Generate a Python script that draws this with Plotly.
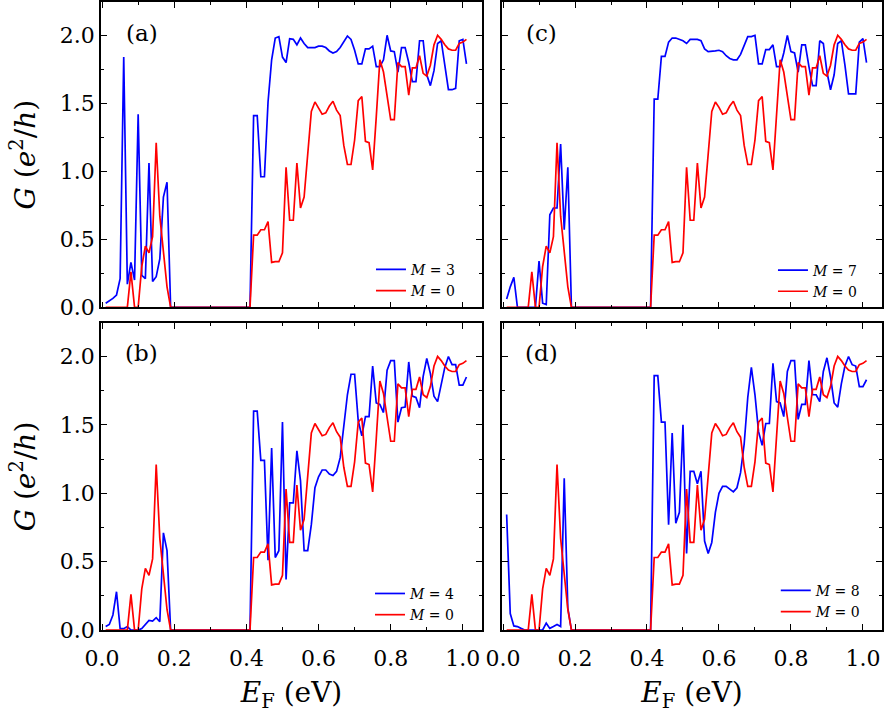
import plotly.graph_objects as go

# Fermi energy grid (eV)
E_F = [round(0.01 * k, 2) for k in range(1, 102)]

# Conductance G (e^2/h), M = 0 reference curve (shown in every panel)
G_M0 = [
    0, 0, 0, 0, 0, 0, 0, 0.26, 0, 0,
    0.30, 0.45, 0.40, 0.52, 1.21, 0.67, 0.40, 0.15, 0, 0,
    0, 0, 0, 0, 0, 0, 0, 0, 0, 0,
    0, 0, 0, 0, 0, 0, 0, 0, 0, 0,
    0, 0.53, 0.53, 0.57, 0.57, 0.63, 0.33, 0.335, 0.335, 0.40,
    1.03, 0.64, 0.64, 1.06, 0.73, 0.81, 1.13, 1.44, 1.51, 1.47,
    1.42, 1.43, 1.48, 1.515, 1.45, 1.41, 1.19, 1.05, 1.05, 1.23,
    1.52, 1.55, 1.22, 1.21, 1.01, 1.40, 1.82, 1.73, 1.55, 1.38,
    1.38, 1.80, 1.77, 1.77, 1.56, 1.76, 1.76, 1.85, 1.72, 1.70,
    1.78, 1.93, 2.00, 1.97, 1.93, 1.90, 1.89, 1.89, 1.94, 1.95,
    1.97,
]

G_M3 = [
    0.03, 0.045, 0.065, 0.09, 0.21, 1.84, 0.17, 0.33, 0.20, 1.42,
    0.235, 0.21, 1.06, 0.19, 0.225, 0.355, 0.81, 0.92, 0, 0,
    0, 0, 0, 0, 0, 0, 0, 0, 0, 0,
    0, 0, 0, 0, 0, 0, 0, 0, 0, 0,
    0, 1.41, 1.41, 0.96, 0.96, 1.51, 1.82, 1.98, 1.99, 1.84,
    1.80, 1.975, 1.97, 1.93, 1.98, 1.94, 1.91, 1.91, 1.91, 1.92,
    1.92, 1.91, 1.885, 1.87, 1.88, 1.91, 1.95, 1.995, 1.97, 1.89,
    1.79, 1.79, 1.90, 1.90, 1.92, 1.77, 1.77, 1.82, 2.00, 1.885,
    1.88, 1.73, 1.91, 1.91, 1.80, 1.66, 1.66, 1.96, 1.96, 1.71,
    1.63, 1.74, 1.94, 1.96, 1.78, 1.60, 1.60, 1.61, 1.96, 1.97,
    1.79,
]

G_M4 = [
    0.025, 0.04, 0.11, 0.28, 0.01, 0.01, 0.025, 0, 0, 0,
    0.01, 0.04, 0.07, 0.065, 0.09, 0.06, 0.71, 0.58, 0, 0,
    0, 0, 0, 0, 0, 0, 0, 0, 0, 0,
    0, 0, 0, 0, 0, 0, 0, 0, 0, 0,
    0, 1.60, 1.60, 1.24, 1.24, 0.51, 1.33, 0.53, 0.58, 1.52,
    0.37, 0.93, 0.93, 1.31, 1.09, 0.58, 0.58, 0.77, 1.04, 1.12,
    1.17, 1.17, 1.14, 1.13, 1.16, 1.26, 1.48, 1.72, 1.87, 1.87,
    1.53, 1.42, 1.56, 1.56, 1.93, 1.66, 1.65, 1.59, 1.90, 1.97,
    1.97, 1.52, 1.625, 1.63, 1.96, 1.71, 1.70, 1.625, 1.855, 1.985,
    1.875, 1.71, 1.67, 1.80, 1.92, 2.00, 1.94, 1.94, 1.79, 1.79,
    1.85,
]

G_M7 = [
    0.06, 0.15, 0.22, 0, 0, 0, 0, 0, 0, 0.34,
    0.03, 0.02, 0.68, 0.73, 0.73, 1.20, 0.57, 1.03, 0, 0,
    0, 0, 0, 0, 0, 0, 0, 0, 0, 0,
    0, 0, 0, 0, 0, 0, 0, 0, 0, 0,
    0, 1.53, 1.53, 1.845, 1.845, 1.95, 1.98, 1.98, 1.97, 1.96,
    1.94, 1.97, 1.97, 1.97, 1.96, 1.90, 1.88, 1.88, 1.885, 1.89,
    1.88, 1.85, 1.83, 1.82, 1.82, 1.86, 1.93, 1.99, 1.99, 2.00,
    1.79, 1.79, 1.895, 1.895, 1.93, 1.77, 1.77, 1.87, 2.00, 1.88,
    1.87, 1.73, 1.93, 1.93, 1.77, 1.63, 1.63, 1.96, 1.94, 1.73,
    1.60, 1.71, 1.94, 1.96, 1.78, 1.57, 1.57, 1.57, 1.95, 1.975,
    1.80,
]

G_M8 = [
    0.845, 0.12, 0.03, 0.025, 0.012, 0, 0, 0, 0, 0,
    0, 0.05, 0.012, 0.025, 0.04, 0.025, 1.11, 0.16, 0, 0,
    0, 0, 0, 0, 0, 0, 0, 0, 0, 0,
    0, 0, 0, 0, 0, 0, 0, 0, 0, 0,
    0, 1.86, 1.86, 1.52, 1.52, 0.77, 1.44, 0.78, 0.86, 1.50,
    0.56, 1.16, 1.16, 1.07, 1.16, 0.65, 0.56, 0.64, 0.86, 1.00,
    1.05, 1.05, 1.03, 1.01, 1.04, 1.15, 1.36, 1.70, 1.92, 1.72,
    1.45, 1.35, 1.51, 1.51, 1.95, 1.67, 1.66, 1.56, 1.89, 1.97,
    1.97, 1.54, 1.65, 1.65, 1.97, 1.72, 1.72, 1.67, 1.89, 1.99,
    1.85, 1.66, 1.63, 1.80, 1.93, 2.00, 1.94, 1.93, 1.78, 1.78,
    1.83,
]

PANEL_LABELS = ["(a)", "(c)", "(b)", "(d)"]
M_VALUES = [3, 7, 4, 8]
SERIES = [G_M3, G_M7, G_M4, G_M8]

FONT = "DejaVu Serif"
BLUE = "#0000ff"
RED = "#ff0000"

fig = go.Figure()

axis_ids = ["", "2", "3", "4"]
legend_ids = ["legend", "legend2", "legend3", "legend4"]
for i, (m, g) in enumerate(zip(M_VALUES, SERIES)):
    xa = "x" + axis_ids[i]
    ya = "y" + axis_ids[i]
    fig.add_trace(go.Scatter(x=E_F, y=g, mode="lines", name=f"<i>M</i> = {m}",
                             line=dict(color=BLUE, width=1.7),
                             xaxis=xa, yaxis=ya, legend=legend_ids[i]))
    fig.add_trace(go.Scatter(x=E_F, y=G_M0, mode="lines", name="<i>M</i> = 0",
                             line=dict(color=RED, width=1.7),
                             xaxis=xa, yaxis=ya, legend=legend_ids[i]))

tick_font = dict(family=FONT, size=22, color="black")
title_font = dict(family=FONT, size=28, color="black")

common = dict(showline=True, linecolor="black", linewidth=1.5, mirror="ticks",
              ticks="inside", ticklen=6, tickwidth=1.2, tickcolor="black",
              showgrid=False, zeroline=False, tickfont=tick_font,
              automargin=False)

def xaxis(domain, anchor, labels):
    d = dict(common)
    d.update(domain=domain, anchor=anchor, range=[-0.003, 1.053],
             tick0=0, dtick=0.2, tickformat=".1f", showticklabels=labels,
             ticklabelstandoff=8,
             minor=dict(ticks="inside", ticklen=3, tickwidth=1.0,
                        tickcolor="black", dtick=0.1, tick0=0))
    if labels:
        d["title"] = dict(text="<i>E</i><sub>F</sub> (eV)", font=title_font, standoff=16)
    return d

def yaxis(domain, anchor, labels):
    d = dict(common)
    d.update(domain=domain, anchor=anchor, range=[0, 2.245],
             tick0=0, dtick=0.5, tickformat=".1f", showticklabels=labels,
             minor=dict(ticks="inside", ticklen=3, tickwidth=1.0,
                        tickcolor="black", dtick=0.25, tick0=0))
    if labels:
        d["title"] = dict(text="<i>G</i> (<i>e</i><sup>2</sup>/<i>h</i>)",
                          font=title_font, standoff=16)
    return d

col1 = [0, 0.4878]
col2 = [0.5134, 1.0]
row1 = [0.5139, 1.0]
row2 = [0.0, 0.4889]

legend_style = dict(font=dict(family=FONT, size=14, color="black"),
                    bgcolor="rgba(0,0,0,0)", borderwidth=0,
                    xanchor="left", yanchor="top", tracegroupgap=0)

fig.update_layout(
    width=884, height=713,
    margin=dict(l=101, r=2, t=2, b=83),
    paper_bgcolor="white", plot_bgcolor="white",
    font=dict(family=FONT, color="black"),
    xaxis=xaxis(col1, "y", False), yaxis=yaxis(row1, "x", True),
    xaxis2=xaxis(col2, "y2", False), yaxis2=yaxis(row1, "x2", False),
    xaxis3=xaxis(col1, "y3", True), yaxis3=yaxis(row2, "x3", True),
    xaxis4=xaxis(col2, "y4", True), yaxis4=yaxis(row2, "x4", False),
    legend=dict(legend_style, x=0.3457, y=0.599),
    legend2=dict(legend_style, x=0.8604, y=0.598),
    legend3=dict(legend_style, x=0.3444, y=0.083),
    legend4=dict(legend_style, x=0.864, y=0.088),
    showlegend=True,
)

label_pos = [(0.0521, 0.9506), (0.5643, 0.9506), (0.0521, 0.4411), (0.5643, 0.4411)]
for lab, (lx, ly) in zip(PANEL_LABELS, label_pos):
    fig.add_annotation(text=lab, x=lx, y=ly, xref="paper", yref="paper",
                       showarrow=False, xanchor="center", yanchor="middle",
                       font=dict(family=FONT, size=23, color="black"))

fig.write_html(
    "out.html",
    config={"displayModeBar": False},
    post_script="document.body.style.margin='0';document.body.style.overflow='hidden';",
)
